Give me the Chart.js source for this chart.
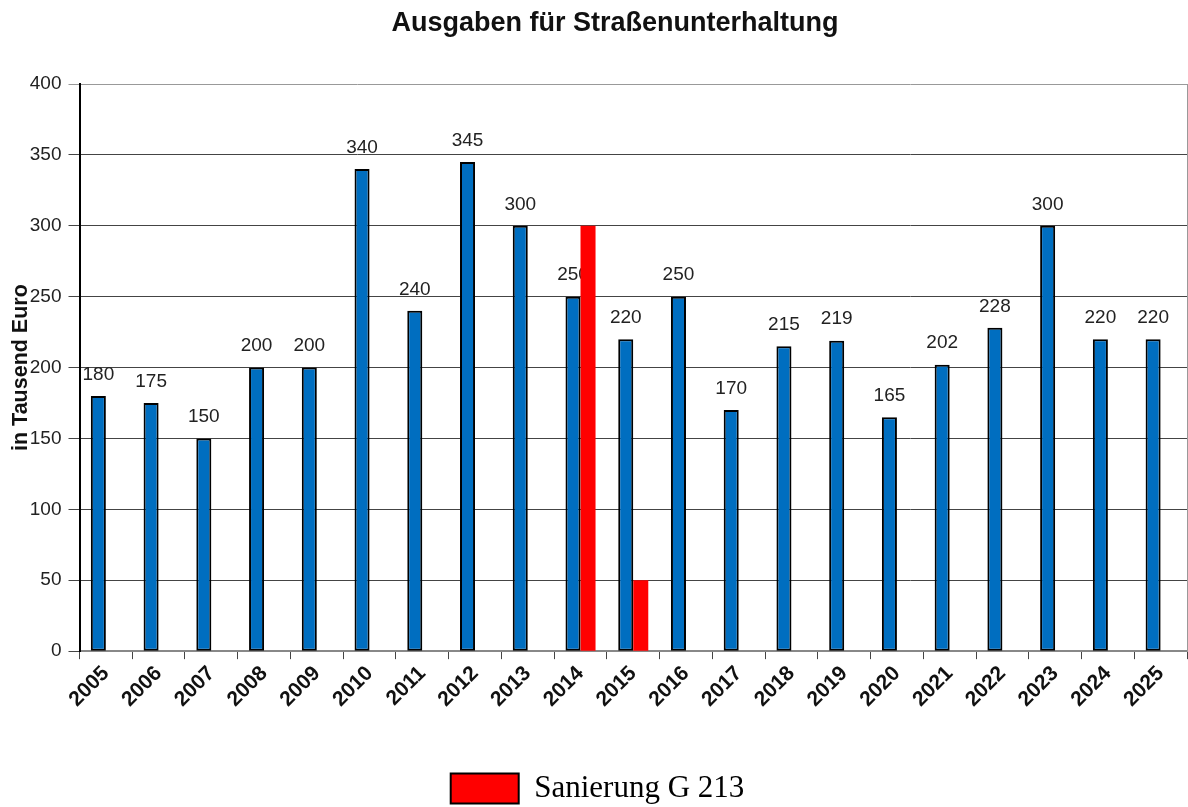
<!DOCTYPE html>
<html>
<head>
<meta charset="utf-8">
<script src="https://cdn.jsdelivr.net/npm/chart.js@4/dist/chart.umd.min.js"></script>
<style>
  html, body { margin: 0; padding: 0; background: #fff; }
  #wrap { width: 1188px; height: 807px; }
</style>
</head>
<body>
<div id="wrap"><canvas id="chart" width="1188" height="807"></canvas></div>
<script>
"use strict";

// Daten (in Tausend Euro)
const years = ['2005', '2006', '2007', '2008', '2009', '2010', '2011', '2012', '2013', '2014', '2015',
    '2016', '2017', '2018', '2019', '2020', '2021', '2022', '2023', '2024', '2025'];
const ausgaben = [180, 175, 150, 200, 200, 340, 240, 345, 300, 250, 220,
    250, 170, 215, 219, 165, 202, 228, 300, 220, 220];
const sanierung = [null, null, null, null, null, null, null, null, null, 300, 50,
    null, null, null, null, null, null, null, null, null, null];
const titleText = 'Ausgaben für Straßenunterhaltung';
const yTitle = 'in Tausend Euro';
const legendText = 'Sanierung G 213';

const SANS = 'Arial, "Liberation Sans", sans-serif';
const SERIF = '"Times New Roman", "Liberation Serif", serif';

// Titel etwas links von der Plotmitte, wie im Original
const titlePlugin = {
    id: 'titleText',
    afterDraw(chart) {
        const ctx = chart.ctx;
        ctx.save();
        ctx.font = 'bold 27px ' + SANS;
        ctx.fillStyle = '#111';
        ctx.textAlign = 'center';
        ctx.textBaseline = 'middle';
        ctx.fillText(titleText, 615, 24);
        ctx.restore();
    }
};

// Werte über den blauen Balken (vor den Balken gezeichnet, damit Rot drüber liegt)
const valueLabels = {
    id: 'valueLabels',
    beforeDatasetsDraw(chart) {
        const ctx = chart.ctx;
        const meta = chart.getDatasetMeta(0);
        ctx.save();
        ctx.font = '19px ' + SANS;
        ctx.fillStyle = '#222';
        ctx.textAlign = 'center';
        ctx.textBaseline = 'bottom';
        meta.data.forEach((bar, i) => {
            ctx.fillText(String(ausgaben[i]), bar.x, bar.y - 12);
        });
        ctx.restore();
    }
};

new Chart(document.getElementById('chart'), {
    type: 'bar',
    data: {
        labels: years,
        datasets: [
            {
                label: 'Ausgaben',
                data: ausgaben,
                backgroundColor: '#006EC0',
                borderColor: '#000',
                borderWidth: 2,
                borderSkipped: false,
                barPercentage: 1,
                categoryPercentage: 0.57
            },
            {
                label: legendText,
                data: sanierung,
                backgroundColor: '#FF0000',
                borderWidth: 0,
                barPercentage: 1,
                categoryPercentage: 0.57
            }
        ]
    },
    options: {
        responsive: false,
        animation: false,
        layout: { padding: { top: 84, right: 1, left: 8, bottom: -7 } },
        scales: {
            x: {
                offset: true,
                grid: { drawOnChartArea: false, tickLength: 8, color: '#444', offset: true },
                border: { color: '#888', width: 2 },
                ticks: {
                    autoSkip: false,
                    minRotation: 45,
                    maxRotation: 45,
                    padding: 2,
                    color: '#111',
                    font: { family: SANS, size: 21, weight: 'bold' }
                },
                // Platz zwischen Jahreszahlen und Legende
                afterFit(scale) { scale.height += 57; }
            },
            y: {
                min: 0,
                max: 400,
                ticks: {
                    stepSize: 50,
                    padding: 7,
                    color: '#222',
                    font: { family: SANS, size: 19 }
                },
                grid: {
                    tickLength: 11,
                    color: (c) => (c.tick && c.tick.value === 400 ? '#999' : '#444'),
                    lineWidth: 1
                },
                border: { color: '#000', width: 2 },
                title: {
                    display: true,
                    text: yTitle,
                    color: '#111',
                    padding: { top: 0, bottom: -11 },
                    font: { family: SANS, size: 21.5, weight: 'bold' }
                }
            },
            yRight: {
                position: 'right',
                min: 0,
                max: 400,
                ticks: { display: false },
                grid: { drawOnChartArea: false, drawTicks: false },
                border: { color: '#999', width: 1 }
            }
        },
        plugins: {
            title: { display: false },
            tooltip: { enabled: false },
            legend: {
                position: 'bottom',
                padding: 0,
                labels: {
                    boxWidth: 68,
                    boxHeight: 30,
                    padding: 2,
                    color: '#000',
                    font: { family: SERIF, size: 31, lineHeight: 1 },
                    filter: (item) => item.datasetIndex === 1,
                    generateLabels: () => [{
                        text: legendText,
                        fillStyle: '#FF0000',
                        strokeStyle: '#000',
                        lineWidth: 2,
                        datasetIndex: 1
                    }]
                }
            }
        }
    },
    plugins: [titlePlugin, valueLabels]
});
</script>
</body>
</html>
